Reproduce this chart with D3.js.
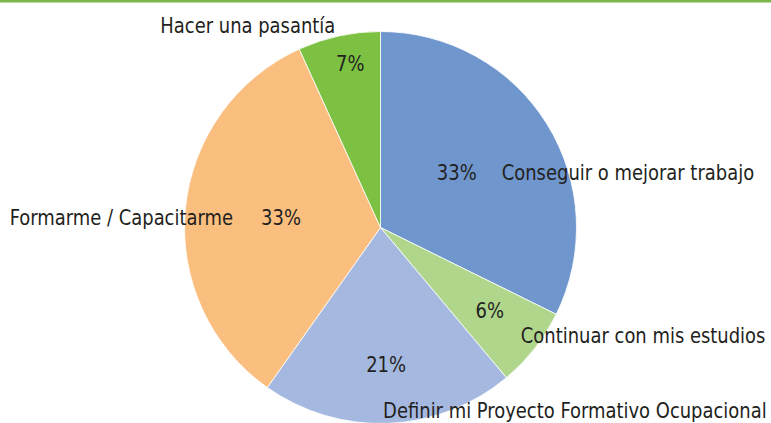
<!DOCTYPE html>
<html>
<head>
<meta charset="utf-8">
<script src="https://cdn.jsdelivr.net/npm/d3@7"></script>
<style>
  html, body { margin: 0; padding: 0; background: #fff; }
  svg { display: block; }
  text { font-family: "DejaVu Sans Condensed", "DejaVu Sans", sans-serif; fill: #231f20; }
</style>
</head>
<body>
<svg id="chart" width="771" height="423"></svg>
<script>
// ---- data ----
const categories = [
  "Conseguir o mejorar trabajo",
  "Continuar con mis estudios",
  "Definir mi Proyecto Formativo Ocupacional",
  "Formarme / Capacitarme",
  "Hacer una pasantía"
];
const values = [32.3, 6.6, 20.9, 33.4, 6.8];
const percentLabels = ["33%", "6%", "21%", "33%", "7%"];
const colors = ["#6f96cd", "#b0d68c", "#a5b9e0", "#fabe7f", "#7dc143"];

// ---- layout (label placement, not data) ----
const pctRadius = [0.48, 0.70, 0.70, 0.51, 0.85];
const pctAngleShift = [-4, -1, 0, 0.3, 1.8]; // degrees
const catOffset = [
  { dx: 45, dy: 0, anchor: "start" },
  { dx: 31, dy: 25, anchor: "start" },
  { dx: -3, dy: 46, anchor: "start" },
  { dx: -48, dy: 0, anchor: "end" },
  { dx: -15, dy: -38, anchor: "end" }
];

const width = 771, height = 423;
const cx = 380.5, cy = 227.5, R = 196;
const fontSize = 21;
const squeeze = 0.95; // condensed look

const svg = d3.select("#chart");

// top rule
svg.append("rect")
  .attr("x", 0).attr("y", 0)
  .attr("width", width).attr("height", 2.5)
  .attr("fill", "#7ab648");

const data = categories.map((c, i) => ({ cat: c, value: values[i], pct: percentLabels[i], color: colors[i], i }));

const pie = d3.pie().value(d => d.value).sort(null).startAngle(0).endAngle(2 * Math.PI);
const arcs = pie(data);
const arc = d3.arc().innerRadius(0).outerRadius(R);

const g = svg.append("g").attr("transform", `translate(${cx},${cy})`);

g.selectAll("path.slice")
  .data(arcs)
  .join("path")
  .attr("class", "slice")
  .attr("d", arc)
  .attr("fill", d => d.data.color)
  .attr("stroke", "#ffffff")
  .attr("stroke-width", 0.8);

// label positions
const labelPos = arcs.map((a, i) => {
  const mid = (a.startAngle + a.endAngle) / 2 + pctAngleShift[i] * Math.PI / 180;
  const r = pctRadius[i] * R;
  return [r * Math.sin(mid), -r * Math.cos(mid)];
});

g.selectAll("g.pct")
  .data(arcs)
  .join("g")
  .attr("class", "pct")
  .attr("transform", (d, i) => `translate(${labelPos[i][0]},${labelPos[i][1]}) scale(${squeeze},1)`)
  .append("text")
  .attr("dy", "0.35em")
  .attr("text-anchor", "middle")
  .attr("font-size", fontSize)
  .text(d => d.data.pct);

g.selectAll("g.cat")
  .data(arcs)
  .join("g")
  .attr("class", "cat")
  .attr("transform", (d, i) => `translate(${labelPos[i][0] + catOffset[i].dx},${labelPos[i][1] + catOffset[i].dy}) scale(${squeeze},1)`)
  .append("text")
  .attr("dy", "0.35em")
  .attr("text-anchor", (d, i) => catOffset[i].anchor)
  .attr("font-size", fontSize)
  .text(d => d.data.cat);
</script>
</body>
</html>
